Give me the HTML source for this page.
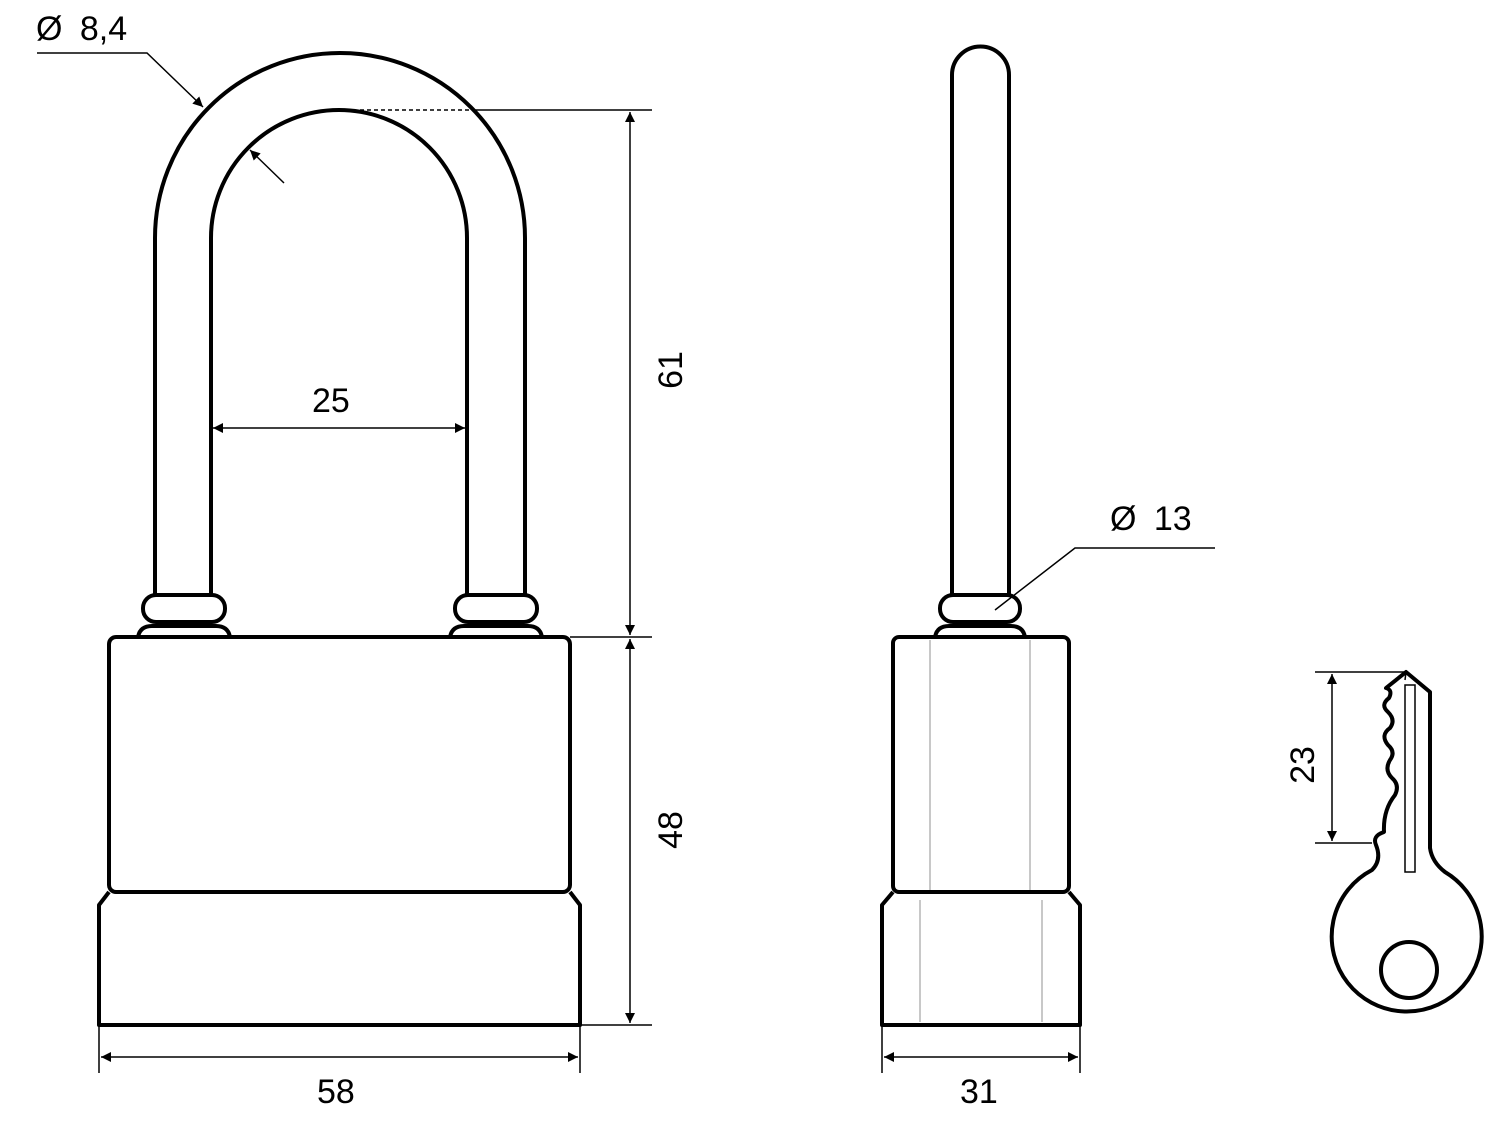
<!DOCTYPE html>
<html><head><style>body{margin:0;background:#fff}svg{display:block}text{font-family:"Liberation Sans",Arial,sans-serif;font-size:34px;fill:#000}</style></head>
<body>
<svg width="1500" height="1125" viewBox="0 0 1500 1125" xmlns="http://www.w3.org/2000/svg">
<defs>
<marker id="a" viewBox="0 0 10 10" refX="10" refY="5" markerWidth="14" markerHeight="10" orient="auto-start-reverse" markerUnits="userSpaceOnUse"><path d="M0,0 L10,5 L0,10 z" fill="#000"/></marker>
</defs>
<g fill="none" stroke="#000" stroke-width="4" stroke-linejoin="round">
<path d="M155,595 V238 A185,185 0 0 1 525,238 V595"/>
<path d="M211,595 V238 A128,128 0 0 1 467,238 V595"/>
<rect x="143" y="595" width="82" height="27" rx="13"/>
<rect x="455" y="595" width="82" height="27" rx="13"/>
<path d="M138,637 Q140,626 152,626 H216 Q228,626 230,637"/>
<path d="M450,637 Q452,626 464,626 H528 Q540,626 542,637"/>
<rect x="109" y="637" width="461" height="255" rx="7"/>
<path d="M109,892 L99,905 V1025 H580 V905 L570,892"/>
<path d="M952,595 V75 A28.5,28.5 0 0 1 1009,75 V595"/>
<rect x="940" y="595" width="80" height="27" rx="13"/>
<path d="M935,637 Q937,626 949,626 H1011 Q1023,626 1025,637"/>
<rect x="893" y="637" width="176" height="255" rx="6"/>
<path d="M893,892 L882,905 V1025 H1080 V905 L1069,892"/>
<path d="M1406,672 L1430,692 V848 Q1432,862 1445,872 A75,75 0 1 1 1372,870 Q1382,860 1376,845 Q1372,836 1384,832 Q1383,810 1395,795 Q1400,785 1392,778 Q1384,770 1390,760 Q1396,752 1388,745 Q1380,735 1390,728 Q1396,720 1388,712 Q1380,705 1389,698 Q1393,690 1386,688 Z"/>
<circle cx="1409" cy="970" r="28"/>
</g>
<g fill="none" stroke="#000" stroke-width="1.5">
<rect x="1405" y="685" width="10" height="187"/>
<path d="M1405,680 L1406,672 L1415,680"/>
<line x1="360" y1="110" x2="475" y2="110" stroke-dasharray="4,3"/>
<line x1="475" y1="110" x2="652" y2="110"/>
<line x1="570" y1="637" x2="652" y2="637"/>
<line x1="580" y1="1025" x2="652" y2="1025"/>
<line x1="630" y1="112" x2="630" y2="635" marker-start="url(#a)" marker-end="url(#a)"/>
<line x1="630" y1="639" x2="630" y2="1023" marker-start="url(#a)" marker-end="url(#a)"/>
<line x1="213" y1="428" x2="465" y2="428" marker-start="url(#a)" marker-end="url(#a)"/>
<line x1="99" y1="1025" x2="99" y2="1073"/>
<line x1="580" y1="1025" x2="580" y2="1073"/>
<line x1="101" y1="1057" x2="578" y2="1057" marker-start="url(#a)" marker-end="url(#a)"/>
<line x1="882" y1="1025" x2="882" y2="1073"/>
<line x1="1080" y1="1025" x2="1080" y2="1073"/>
<line x1="884" y1="1057" x2="1078" y2="1057" marker-start="url(#a)" marker-end="url(#a)"/>
<polyline points="37,53 147,53 203,107" marker-end="url(#a)"/>
<line x1="284" y1="183" x2="250" y2="150" marker-end="url(#a)"/>
<polyline points="995,610 1075,548 1215,548"/>
<line x1="1315" y1="672" x2="1405" y2="672"/>
<line x1="1315" y1="843" x2="1372" y2="843"/>
<line x1="1332" y1="674" x2="1332" y2="841" marker-start="url(#a)" marker-end="url(#a)"/>
</g>
<g stroke="#c8c8c8" stroke-width="2">
<line x1="930" y1="640" x2="930" y2="890"/><line x1="1030" y1="640" x2="1030" y2="890"/>
<line x1="920" y1="900" x2="920" y2="1022"/><line x1="1042" y1="900" x2="1042" y2="1022"/>
</g>
<text x="36" y="40" style="word-spacing:8px">Ø 8,4</text>
<text x="312" y="412">25</text>
<text x="317" y="1103">58</text>
<text x="960" y="1103">31</text>
<text x="1110" y="530" style="word-spacing:8px">Ø 13</text>
<text transform="translate(682,370) rotate(-90)" text-anchor="middle">61</text>
<text transform="translate(682,830) rotate(-90)" text-anchor="middle">48</text>
<text transform="translate(1314,765) rotate(-90)" text-anchor="middle">23</text>
</svg>
</body></html>
